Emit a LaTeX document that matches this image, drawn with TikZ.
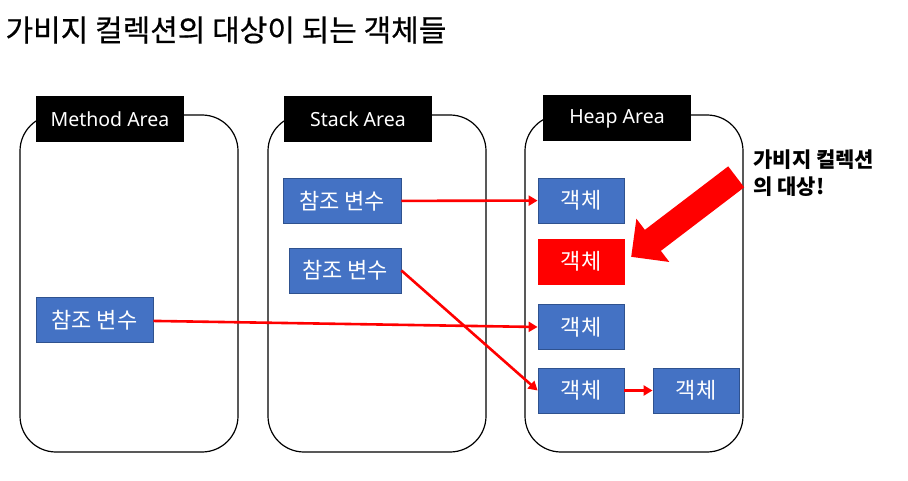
\documentclass[tikz,border=0pt]{standalone}
\usepackage{fontspec}
\setmainfont{Noto Sans CJK KR}
\newfontfamily\latinfont{Noto Sans}
\newfontfamily\titlefont[FakeBold=0.6]{Noto Sans CJK KR}
\usetikzlibrary{arrows.meta,shapes.arrows}
\definecolor{boxblue}{HTML}{4472C4}
\definecolor{boxedge}{HTML}{2F528F}

\begin{document}
\begin{tikzpicture}[x=1pt, y=-1pt,
    area/.style={draw, line width=1.2pt, rounded corners=36pt, minimum width=218pt, minimum height=337pt, inner sep=0pt},
    arealabel/.style={fill=black, text=white, font=\latinfont\fontsize{19.5}{20}\selectfont, minimum width=148pt, minimum height=46pt, inner sep=0pt},
    refbox/.style={fill=boxblue, draw=boxedge, line width=0.8pt, text=white, font=\fontsize{22}{24}\selectfont, minimum height=45pt, inner sep=0pt},
    objbox/.style={refbox, minimum width=86pt},
    link/.style={red, line width=2.6pt, -{Triangle[length=9pt, width=10pt]}}]
  \useasboundingbox (0,0) rectangle (908,481);
  \node [anchor=west, font=\titlefont\fontsize{30}{32}\selectfont] (title) at (2,30) {가비지 컬렉션의 대상이 되는 객체들};
  \node [area] (methodarea) at (129, 283.5) {};
  \node [area] (stackarea) at (377, 283.5) {};
  \node [area] (heaparea) at (634, 283.5) {};
  \node [arealabel] (methodlabel) at (110, 119.5) {Method Area};
  \node [arealabel] (stacklabel) at (358, 119.5) {Stack Area};
  \node [arealabel] (heaplabel) at (617, 118.5) {Heap Area};
  \node [refbox, minimum width=117pt] (mref) at (94.5, 320) {참조 변수};
  \node [refbox, minimum width=118pt] (sref1) at (342, 201) {참조 변수};
  \node [refbox, minimum width=112pt] (sref2) at (345, 270.5) {참조 변수};
  \node [objbox] (obj1) at (581, 200.5) {객체};
  \node [objbox, fill=red, draw=red] (objgc) at (581, 261.5) {객체};
  \node [objbox] (obj3) at (581, 327) {객체};
  \node [objbox] (obj4) at (581, 390.5) {객체};
  \node [objbox] (obj5) at (696, 390.5) {객체};
  \node [anchor=west, align=left, font=\bfseries\fontsize{21}{27}\selectfont] (gcnote) at (750, 173.5) {가비지 컬렉션\\의 대상!};
  \node [single arrow, fill=red, inner xsep=0pt, inner ysep=13pt, minimum height=132pt, minimum width=54pt,
    single arrow head extend=14pt, rotate=217.3, anchor=tip] (gcarrow) at (631, 257) {};
  \draw [link] (sref1) -- (obj1);
  \draw [link] (sref2.east) -- (obj4.west);
  \draw [link] (mref) -- (obj3.west);
  \draw [link] (obj4) -- (obj5);
\end{tikzpicture}
\end{document}
